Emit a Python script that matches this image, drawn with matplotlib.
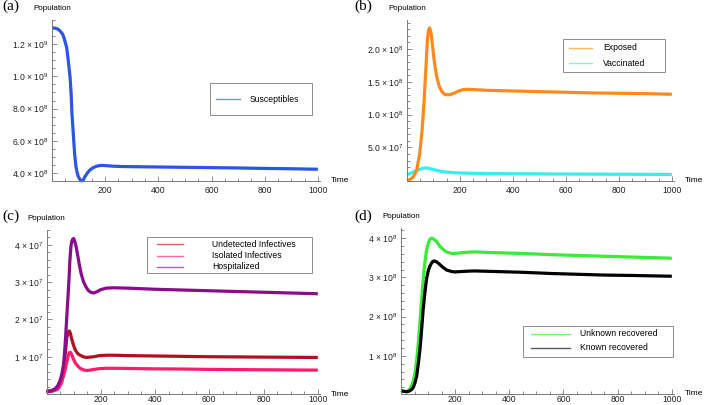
import matplotlib
matplotlib.use('Agg')
import matplotlib.pyplot as plt
from matplotlib.ticker import FixedLocator, MultipleLocator
from matplotlib.patches import Rectangle

plt.rcParams['font.family'] = ['Liberation Sans', 'DejaVu Sans']
plt.rcParams['mathtext.fontset'] = 'custom'
plt.rcParams['mathtext.rm'] = 'Liberation Sans'
plt.rcParams['mathtext.default'] = 'regular'

# ---- data ----
# (a) susceptibles
t_s = [0, 10, 20, 30, 40, 45, 50, 55, 61, 68, 72, 75, 80, 85, 90, 95, 99, 105, 111, 117,
       124, 133, 143, 155, 168, 180, 190, 205, 230, 260, 300, 400, 500, 600, 700, 800, 900, 1000]
susceptibles = [1.300e9, 1.300e9, 1.295e9, 1.283e9, 1.262e9, 1.24e9, 1.21e9, 1.18e9, 1.10e9,
                9.94e8, 8.9e8, 7.7e8, 6.45e8, 5.2e8, 4.4e8, 4.0e8, 3.77e8, 3.6e8, 3.5e8, 3.55e8,
                3.77e8, 4.0e8, 4.19e8, 4.33e8, 4.42e8, 4.46e8, 4.47e8, 4.45e8, 4.42e8, 4.40e8,
                4.39e8, 4.37e8, 4.35e8, 4.33e8, 4.31e8, 4.28e8, 4.26e8, 4.23e8]

# (b) exposed / vaccinated
t_e = [0, 10, 23, 36, 48, 57, 64, 71, 77, 81, 85, 88, 92, 96, 101, 106, 111, 117, 123, 132,
       142, 155, 167, 180, 195, 211, 230, 260, 300, 400, 500, 600, 700, 800, 900, 1000]
exposed = [0.0, 1.0e6, 4.6e6, 1.48e7, 4.0e7, 7.6e7, 1.17e8, 1.68e8, 2.14e8, 2.28e8, 2.32e8,
           2.29e8, 2.21e8, 2.06e8, 1.88e8, 1.73e8, 1.60e8, 1.50e8, 1.42e8, 1.35e8, 1.31e8,
           1.30e8, 1.31e8, 1.33e8, 1.36e8, 1.38e8, 1.385e8, 1.38e8, 1.37e8, 1.36e8, 1.35e8,
           1.34e8, 1.33e8, 1.325e8, 1.32e8, 1.31e8]
t_v = [0, 15, 29, 42, 55, 65, 73, 85, 105, 130, 150, 180, 200, 250, 300, 400, 600, 800, 1000]
vaccinated = [8.5e6, 1.1e7, 1.38e7, 1.6e7, 1.78e7, 1.87e7, 1.9e7, 1.8e7, 1.6e7, 1.35e7,
              1.25e7, 1.15e7, 1.12e7, 1.07e7, 1.03e7, 1.0e7, 9.6e6, 9.3e6, 9.0e6]

# (c) undetected / isolated / hospitalized
t_i = [0, 20, 40, 50, 57, 63, 69, 75, 80, 84, 88, 93, 99, 105, 112, 118, 124, 135, 148, 160,
       175, 195, 220, 250, 300, 400, 500, 600, 700, 800, 900, 1000]
undetected = [8e5, 9e5, 1.5e6, 3.0e6, 4.5e6, 6.3e6, 1.07e7, 1.52e7, 1.67e7, 1.69e7, 1.63e7,
              1.47e7, 1.32e7, 1.2e7, 1.11e7, 1.07e7, 1.04e7, 1.0e7, 9.8e6, 9.9e6, 1.0e7,
              1.03e7, 1.04e7, 1.04e7, 1.03e7, 1.02e7, 1.01e7, 1.0e7, 9.95e6, 9.9e6, 9.85e6, 9.8e6]
isolated = [6e5, 7e5, 1.2e6, 2.2e6, 3.4e6, 5.0e6, 6.6e6, 8.6e6, 1.03e7, 1.11e7, 1.12e7,
            1.05e7, 9.4e6, 8.5e6, 7.8e6, 7.3e6, 6.9e6, 6.5e6, 6.3e6, 6.4e6, 6.6e6, 6.8e6,
            6.9e6, 6.9e6, 6.85e6, 6.75e6, 6.7e6, 6.6e6, 6.55e6, 6.5e6, 6.45e6, 6.4e6]
t_h = [0, 15, 32, 42, 50, 57, 63, 67, 71, 75, 79, 83, 86, 90, 93, 97, 100, 104, 109, 115, 121,
       128, 136, 145, 154, 163, 173, 185, 200, 220, 246, 300, 400, 500, 600, 700, 800, 900, 1000]
hospitalized = [5e5, 8e5, 1.4e6, 2.3e6, 3.6e6, 5.5e6, 8.0e6, 1.15e7, 1.6e7, 2.1e7, 2.58e7,
                3.1e7, 3.56e7, 3.95e7, 4.09e7, 4.16e7, 4.17e7, 4.1e7, 3.96e7, 3.72e7, 3.47e7,
                3.22e7, 3.02e7, 2.88e7, 2.78e7, 2.73e7, 2.71e7, 2.74e7, 2.8e7, 2.84e7, 2.85e7,
                2.84e7, 2.81e7, 2.79e7, 2.77e7, 2.75e7, 2.73e7, 2.71e7, 2.69e7]

# (d) recovered
t_r = [0, 10, 21, 30, 39, 45, 52, 58, 64, 70, 76, 82, 88, 94, 101, 107, 113, 118, 123, 131,
       143, 156, 168, 187, 199, 223, 250, 272, 350, 450, 555, 650, 750, 850, 1000]
unknown_rec = [1.27e7, 1.0e7, 8.5e6, 1.3e7, 2.4e7, 3.6e7, 5.8e7, 9.0e7, 1.34e8, 1.86e8,
               2.44e8, 2.95e8, 3.37e8, 3.68e8, 3.88e8, 3.97e8, 4.0e8, 3.99e8, 3.96e8, 3.92e8,
               3.8e8, 3.71e8, 3.65e8, 3.61e8, 3.61e8, 3.63e8, 3.645e8, 3.65e8, 3.63e8,
               3.61e8, 3.58e8, 3.56e8, 3.54e8, 3.52e8, 3.49e8]
known_rec = [1.1e7, 9.5e6, 8.5e6, 1.0e7, 1.4e7, 1.9e7, 3.2e7, 4.9e7, 8.0e7, 1.17e8, 1.66e8,
             2.19e8, 2.6e8, 2.95e8, 3.18e8, 3.29e8, 3.37e8, 3.41e8, 3.42e8, 3.4e8, 3.33e8,
             3.25e8, 3.19e8, 3.15e8, 3.14e8, 3.15e8, 3.16e8, 3.165e8, 3.15e8, 3.13e8, 3.1e8,
             3.08e8, 3.06e8, 3.05e8, 3.03e8]

x_ticks = [200, 400, 600, 800, 1000]
yt_a = [4e8, 6e8, 8e8, 1e9, 1.2e9]
yl_a = [r'4.0 $\times$ 10$^{8}$', r'6.0 $\times$ 10$^{8}$', r'8.0 $\times$ 10$^{8}$',
        r'1.0 $\times$ 10$^{9}$', r'1.2 $\times$ 10$^{9}$']
yt_b = [5e7, 1e8, 1.5e8, 2e8]
yl_b = [r'5.0 $\times$ 10$^{7}$', r'1.0 $\times$ 10$^{8}$', r'1.5 $\times$ 10$^{8}$',
        r'2.0 $\times$ 10$^{8}$']
yt_c = [1e7, 2e7, 3e7, 4e7]
yl_c = [r'1 $\times$ 10$^{7}$', r'2 $\times$ 10$^{7}$', r'3 $\times$ 10$^{7}$', r'4 $\times$ 10$^{7}$']
yt_d = [1e8, 2e8, 3e8, 4e8]
yl_d = [r'1 $\times$ 10$^{8}$', r'2 $\times$ 10$^{8}$', r'3 $\times$ 10$^{8}$', r'4 $\times$ 10$^{8}$']

c_s = '#2a55e5'
c_e = '#ff8a1c'
c_v = '#35eeee'
c_u = '#b2101e'
c_iso = '#ff1a6c'
c_h = '#8a0c8c'
c_ur = '#38ec38'
c_kr = '#000000'

W, H = 704, 405
fig = plt.figure(figsize=(W / 100, H / 100), dpi=100)
axc = '#7a7a7a'


def make_ax(l, r, b, t, ylim, yt, yl, yminor, label, lab_xy, xpad):
    ax = fig.add_axes([l / W, 1 - b / H, (r - l) / W, (b - t) / H])
    ax.set_xlim(0, 1008)
    ax.set_ylim(*ylim)
    for s in ['top', 'right']:
        ax.spines[s].set_visible(False)
    for s in ['left', 'bottom']:
        ax.spines[s].set_color(axc)
        ax.spines[s].set_linewidth(0.7)
    ax.xaxis.set_major_locator(FixedLocator(x_ticks))
    ax.xaxis.set_minor_locator(MultipleLocator(50))
    ax.yaxis.set_major_locator(FixedLocator(yt))
    ax.set_yticklabels(yl)
    ax.yaxis.set_minor_locator(MultipleLocator(yminor))
    ax.tick_params(which='both', direction='in', colors=axc, labelcolor='#222222',
                   labelsize=6.2, width=0.6)
    ax.tick_params(axis='x', pad=xpad)
    ax.tick_params(axis='y', pad=2.5)
    ax.tick_params(which='major', length=3.5)
    ax.tick_params(which='minor', length=2)
    ax.annotate('Population', xy=(0, 1), xycoords='axes fraction', xytext=(0, 8),
                textcoords='offset points', ha='center', va='center', fontsize=5.8)
    ax.annotate('Time', xy=(1, 0), xycoords='axes fraction', xytext=(7.5, 0),
                textcoords='offset points', ha='left', va='center', fontsize=6)
    fig.text(lab_xy[0] / W, 1 - lab_xy[1] / H, label, family='Liberation Serif',
             fontsize=11, ha='left', va='top')
    return ax


def box_legend(ax, box, line_x, text_x, rows):
    # box and positions are given in figure pixels (from top-left)
    fig.patches.append(Rectangle((box[0] / W, 1 - box[3] / H), (box[2] - box[0]) / W,
                                 (box[3] - box[1]) / H, transform=fig.transFigure,
                                 facecolor='white', edgecolor='#8c8c8c', lw=0.7, zorder=5))
    for y, color, name in rows:
        fig.lines.append(plt.Line2D([line_x[0] / W, line_x[1] / W], [1 - y / H, 1 - y / H],
                                    transform=fig.transFigure, color=color, lw=1.0,
                                    alpha=0.65, zorder=6))
        fig.text(text_x / W, 1 - y / H, name, fontsize=6.2, ha='left', va='center', zorder=6)


lw = 2.3

# (a)
ax = make_ax(52, 320, 181, 20, (3.5e8, 1.35e9), yt_a, yl_a, 5e7, '(a)', (2, 0), 3.5)
ax.plot(t_s, susceptibles, color=c_s, lw=lw, solid_capstyle='butt', clip_on=False)
box_legend(ax, (210, 83, 312, 115), (216, 240), 250, [(99, c_s, 'Susceptibles')])

# (b)
ax = make_ax(407, 674, 181, 20, (-1e6, 2.44e8), yt_b, yl_b, 1e7, '(b)', (354, 0), 3.5)
ax.plot(t_v, vaccinated, color=c_v, lw=lw, solid_capstyle='butt', clip_on=False)
ax.plot(t_e, exposed, color=c_e, lw=lw, solid_capstyle='butt', clip_on=False)
box_legend(ax, (563, 39, 665, 72), (569, 592), 603,
           [(47.5, c_e, 'Exposed'), (63.3, c_v, 'Vaccinated')])

# (c)
ax = make_ax(46.5, 320, 394, 230, (0, 4.4e7), yt_c, yl_c, 2e6, '(c)', (2, 210), 1.0)
ax.plot(t_i, undetected, color=c_u, lw=lw, solid_capstyle='butt', clip_on=False)
ax.plot(t_i, isolated, color=c_iso, lw=lw, solid_capstyle='butt', clip_on=False)
ax.plot(t_h, hospitalized, color=c_h, lw=lw, solid_capstyle='butt', clip_on=False)
box_legend(ax, (147, 237, 312, 273), (157, 183), 212,
           [(244, c_u, 'Undetected Infectives'), (255.5, c_iso, 'Isolated Infectives'),
            (266.7, c_h, 'Hospitalized')])

# (d)
ax = make_ax(401, 674, 393.5, 228, (4e6, 4.26e8), yt_d, yl_d, 2e7, '(d)', (354, 210), 1.0)
ax.plot(t_r, unknown_rec, color=c_ur, lw=lw, solid_capstyle='butt', clip_on=False)
ax.plot(t_r, known_rec, color=c_kr, lw=lw, solid_capstyle='butt', clip_on=False)
box_legend(ax, (523, 326, 673, 357), (531, 570), 580,
           [(334, c_ur, 'Unknown recovered'), (347.7, c_kr, 'Known recovered')])

fig.savefig('out.png', dpi=100)
